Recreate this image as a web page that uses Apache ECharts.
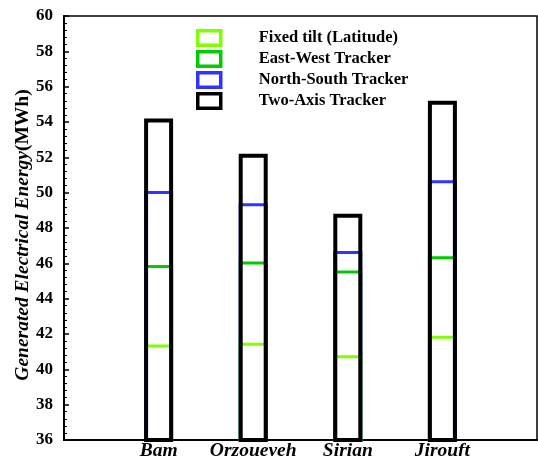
<!DOCTYPE html>
<html>
<head>
<meta charset="utf-8">
<script src="https://cdn.jsdelivr.net/npm/echarts@6/dist/echarts.min.js"></script>
<style>html,body{margin:0;padding:0;background:#fff;}#c{width:538px;height:456px;}</style>
</head>
<body>
<div id="c"></div>
<script>
const categories = ['Bam', 'Orzoueyeh', 'Sirian', 'Jirouft'];
const seriesNames = ['Fixed tilt (Latitude)', 'East-West Tracker', 'North-South Tracker', 'Two-Axis Tracker'];
const fixedTilt = [41.4, 41.5, 40.8, 41.9];
const eastWest = [45.9, 46.1, 45.6, 46.4];
const northSouth = [50.1, 49.4, 46.7, 50.7];
const twoAxis = [54.2, 52.2, 48.8, 55.2];
const yTicks = [36, 38, 40, 42, 44, 46, 48, 50, 52, 54, 56, 58, 60];

const colors = ['#80ff00', '#00cc00', '#3333ff', '#000000'];
const widths = [3, 3, 3, 4];
const allValues = [fixedTilt, eastWest, northSouth, twoAxis];
const serif = '"Liberation Serif", "DejaVu Serif", serif';

const series = seriesNames.map((name, k) => ({
  name: name,
  type: 'bar',
  barWidth: 29,
  barGap: '-100%',
  clip: true,
  data: categories.map((c, i) => [i + 1, allValues[k][i]]),
  itemStyle: { color: 'rgba(0,0,0,0)', borderColor: colors[k], borderWidth: widths[k] },
  emphasis: { disabled: true },
  z: 2 + k
}));

const chart = echarts.init(document.getElementById('c'), null, { renderer: 'canvas' });
chart.setOption({
  animation: false,
  backgroundColor: '#fff',
  grid: { left: 64, top: 16, right: 1, bottom: 16, containLabel: false, outerBoundsMode: 'none', show: true, borderColor: '#000', borderWidth: 1.5, backgroundColor: 'transparent' },
  legend: {
    orient: 'vertical',
    left: 196,
    top: 29,
    padding: 0,
    icon: 'rect',
    itemWidth: 23,
    itemHeight: 14.5,
    itemGap: 3,
    data: seriesNames.map((n, k) => ({ name: n, icon: 'rect', itemStyle: { color: 'rgba(0,0,0,0)', borderColor: colors[k], borderWidth: 3.5 } })),
    formatter: n => '{t|' + n + '}',
    textStyle: {
      rich: { t: { fontFamily: serif, fontWeight: 'bold', fontSize: 16.5, lineHeight: 17, color: '#000', padding: [0, 0, 0, 33] } }
    },
    selectedMode: false
  },
  xAxis: {
    type: 'value',
    min: 0,
    max: 5,
    interval: 1,
    axisLine: { show: true, lineStyle: { color: '#000', width: 2 } },
    axisTick: { show: false },
    splitLine: { show: false },
    axisLabel: {
      margin: 1,
      fontFamily: serif,
      fontWeight: 'bold',
      fontStyle: 'italic',
      fontSize: 19.5,
      color: '#000',
      formatter: v => categories[v - 1] || ''
    }
  },
  yAxis: {
    type: 'value',
    min: yTicks[0],
    max: yTicks[yTicks.length - 1],
    interval: 2,
    name: '{i|Generated Electrical Energy}{n|(MWh)}',
    nameLocation: 'middle',
    nameGap: 31,
    nameMoveOverlap: false,
    nameTextStyle: {
      padding: [0, 14, 0, 0],
      rich: {
        i: { fontFamily: serif, fontWeight: 'bold', fontStyle: 'italic', fontSize: 19.5, color: '#000' },
        n: { fontFamily: serif, fontWeight: 'bold', fontSize: 19.5, color: '#000' }
      }
    },
    axisLine: { show: true, lineStyle: { color: '#000', width: 2 } },
    axisTick: { show: true, inside: true, length: 5, lineStyle: { color: '#000', width: 1.5 } },
    minorTick: { show: true, splitNumber: 5, length: 3, lineStyle: { color: '#000', width: 1 } },
    splitLine: { show: false },
    axisLabel: {
      margin: 11,
      fontFamily: serif,
      fontWeight: 'bold',
      fontSize: 17,
      color: '#000'
    }
  },
  series: series
});
</script>
</body>
</html>
